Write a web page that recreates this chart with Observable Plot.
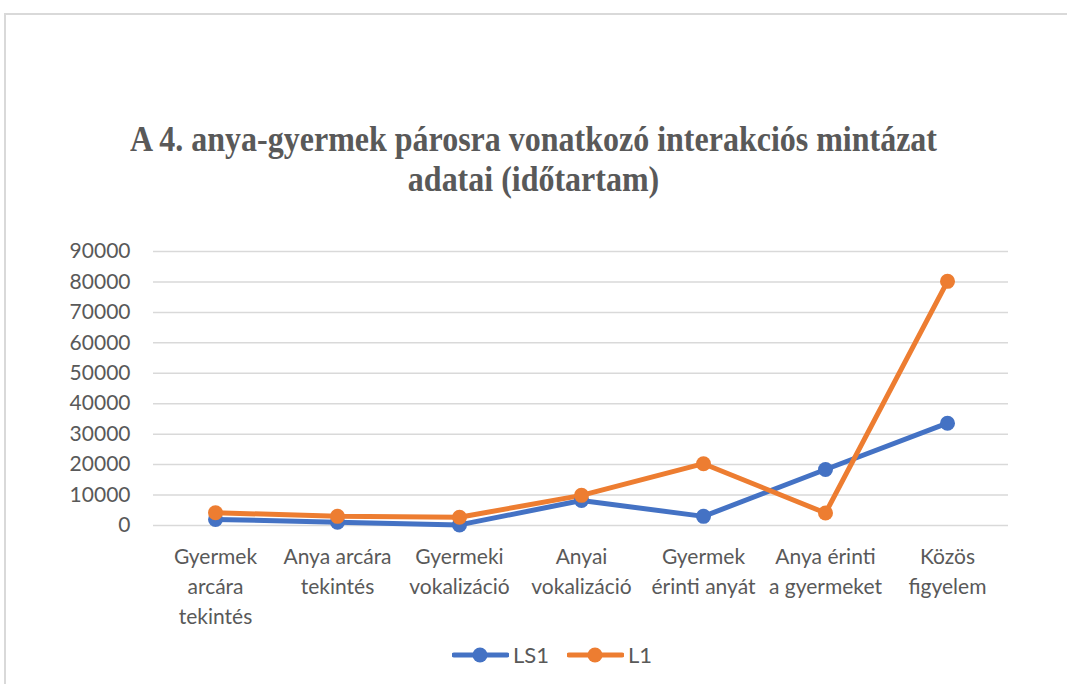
<!DOCTYPE html>
<html>
<head>
<meta charset="utf-8">
<script src="https://cdn.jsdelivr.net/npm/d3@7"></script>
<script src="https://cdn.jsdelivr.net/npm/@observablehq/plot@0.6"></script>
<style>
  html, body { margin: 0; padding: 0; background: #fff; }
  body { width: 1067px; height: 684px; position: relative; overflow: hidden; }
  #frame { position: absolute; left: 4px; top: 13px; width: 1080px; height: 700px;
           border-left: 2px solid #d9d9d9; border-top: 2px solid #d9d9d9; box-sizing: border-box; }
  #title { position: absolute; left: 0; width: 1067px; top: 120px; text-align: center;
           font-family: "Liberation Serif", "Times New Roman", serif; font-weight: bold;
           font-size: 35px; line-height: 40px; color: #595959; }
  #title span { display: inline-block; white-space: nowrap; transform-origin: center; }
  #chart { position: absolute; left: 0; top: 230px; }
  #legend { position: absolute; top: 641px; left: 452px; display: flex;
            gap: 18px; font-family: Lato, "Open Sans", sans-serif; font-size: 22px; color: #595959; }
  #legend .item { display: flex; align-items: center; gap: 4px; }
</style>
</head>
<body>
<div id="frame"></div>
<div id="title"><span>A 4. anya-gyermek párosra vonatkozó interakciós mintázat</span><br><span>adatai (időtartam)</span></div>
<div id="chart"></div>
<div id="legend"></div>
<script>
const categories = ["Gyermek arcára tekintés", "Anya arcára tekintés", "Gyermeki vokalizáció", "Anyai vokalizáció", "Gyermek érinti anyát", "Anya érinti a gyermeket", "Közös figyelem"];
const tickLabels = ["Gyermek\narcára\ntekintés", "Anya arcára\ntekintés", "Gyermeki\nvokalizáció", "Anyai\nvokalizáció", "Gyermek\nérinti anyát", "Anya érinti\na gyermeket", "Közös\nfigyelem"];
const ls1 = [2000, 1100, 200, 8200, 3000, 18400, 33600];
const l1 = [4200, 3000, 2700, 9900, 20300, 4100, 80200];
const seriesNames = ["LS1", "L1"];
const seriesColors = ["#4472C4", "#ED7D31"];
const yTicks = [0, 10000, 20000, 30000, 40000, 50000, 60000, 70000, 80000, 90000];

const data = [];
[ls1, l1].forEach((vals, s) => vals.forEach((v, i) => data.push({series: seriesNames[s], category: categories[i], value: v})));

const labelOf = new Map(categories.map((c, i) => [c, tickLabels[i]]));

const plot = Plot.plot({
  width: 1067,
  height: 420,
  marginLeft: 153,
  marginRight: 59,
  marginTop: 21,
  marginBottom: 125,
  style: { fontFamily: "Lato, 'Open Sans', sans-serif", color: "#595959", background: "transparent" },
  x: { type: "point", domain: categories, padding: 0.5 },
  y: { domain: [0, 90000] },
  color: { domain: seriesNames, range: seriesColors },
  marks: [
    Plot.ruleY(yTicks, { stroke: "#d9d9d9", strokeWidth: 1.5 }),
    Plot.axisY({ ticks: yTicks, tickSize: 0, tickPadding: 23, fontSize: 21, label: null, tickFormat: d => String(d) }),
    Plot.axisX({ tickSize: 0, tickPadding: 17, fontSize: 21, lineHeight: 1.43, label: null, tickFormat: d => labelOf.get(d) }),
    Plot.line(data, { x: "category", y: "value", stroke: "series", z: "series", strokeWidth: 5, strokeLinejoin: "round", strokeLinecap: "round" }),
    Plot.dot(data, { x: "category", y: "value", fill: "series", r: 7.5 })
  ]
});
document.getElementById("chart").appendChild(plot);

const legend = document.getElementById("legend");
seriesNames.forEach((name, i) => {
  const item = document.createElement("div");
  item.className = "item";
  item.innerHTML = `<svg width="57" height="24"><line x1="2" x2="55" y1="12" y2="12" stroke="${seriesColors[i]}" stroke-width="5" stroke-linecap="round"/><circle cx="28" cy="12" r="7.5" fill="${seriesColors[i]}"/></svg><span>${name}</span>`;
  legend.appendChild(item);
});

// fit title line 1 to reference width
const spans = document.querySelectorAll("#title span");
const w = spans[0].getBoundingClientRect().width;
const sx = 807 / w;
spans.forEach(s => s.style.transform = `scaleX(${sx})`);
</script>
</body>
</html>
